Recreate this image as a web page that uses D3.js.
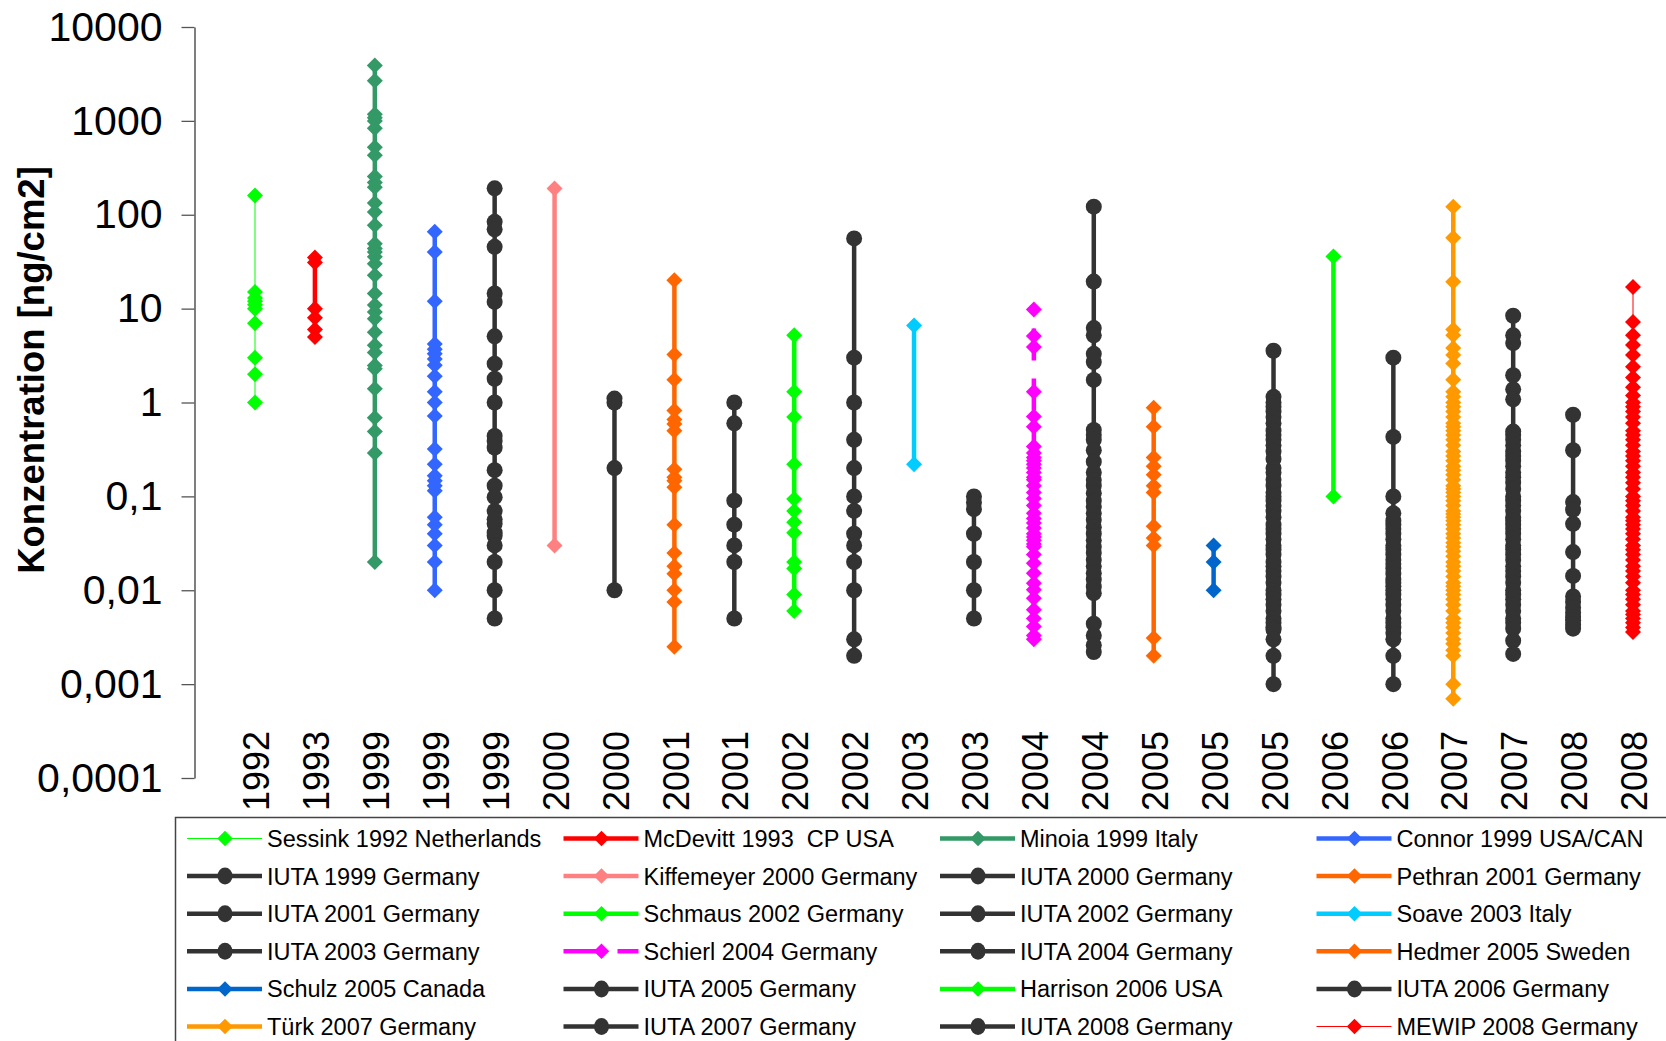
<!DOCTYPE html>
<html>
<head>
<meta charset="utf-8">
<script src="https://cdn.jsdelivr.net/npm/d3@7"></script>
<style>
  html, body { margin: 0; padding: 0; background: #ffffff; }
  svg { display: block; }
  text { font-family: "Liberation Sans", Arial, Helvetica, sans-serif; }
</style>
</head>
<body>
<svg id="chart" width="1666" height="1041"></svg>
<script>
// ---------------- DATA ----------------
const seriesNames = [
  "Sessink 1992 Netherlands", "McDevitt 1993  CP USA", "Minoia 1999 Italy", "Connor 1999 USA/CAN",
  "IUTA 1999 Germany", "Kiffemeyer 2000 Germany", "IUTA 2000 Germany", "Pethran 2001 Germany",
  "IUTA 2001 Germany", "Schmaus 2002 Germany", "IUTA 2002 Germany", "Soave 2003 Italy",
  "IUTA 2003 Germany", "Schierl 2004 Germany", "IUTA 2004 Germany", "Hedmer 2005 Sweden",
  "Schulz 2005 Canada", "IUTA 2005 Germany", "Harrison 2006 USA", "IUTA 2006 Germany",
  "Türk 2007 Germany", "IUTA 2007 Germany", "IUTA 2008 Germany", "MEWIP 2008 Germany"
];
const yearLabels = ["1992","1993","1999","1999","1999","2000","2000","2001","2001","2002","2002","2003",
  "2003","2004","2004","2005","2005","2005","2006","2006","2007","2007","2008","2008"];
const yTickValues = [0.0001, 0.001, 0.01, 0.1, 1, 10, 100, 1000, 10000];
const yTickLabels = ["0,0001", "0,001", "0,01", "0,1", "1", "10", "100", "1000", "10000"];

const sessink = [160, 15, 13, 12, 11, 10, 7, 3, 2, 1];
const mcdevitt = [35, 31, 10, 8, 6, 5];
const minoia = [3900, 2670, 1180, 1080, 1000, 835, 523, 430, 255, 221, 196, 133, 107, 77.5, 49, 43.7, 40, 35.6, 30,
  22.7, 14.5, 10.9, 9.2, 7.8, 5.6, 4.06, 3.4, 2.48, 2.29, 1.4, 0.69, 0.49, 0.29, 0.02];
const connor = [66, 40, 12, 4.2, 3.7, 3.3, 2.9, 2.5, 1.9, 1.3, 1.0, 0.72, 0.32, 0.22, 0.166, 0.147, 0.13, 0.115,
  0.06, 0.05, 0.04, 0.03, 0.02, 0.01];
const iuta1999 = [191, 84, 70, 45.5, 14.5, 11.8, 5.07, 2.59, 1.79, 1.0, 0.44, 0.39, 0.33, 0.19, 0.13, 0.098, 0.07,
  0.057, 0.051, 0.041, 0.038, 0.03, 0.02, 0.01, 0.005];
const kiffemeyer = [190, 0.03];
const iuta2000 = [1.1, 1.0, 0.2, 0.01];
const pethran = [20, 3.25, 1.75, 0.82, 0.66, 0.59, 0.5, 0.195, 0.16, 0.147, 0.125, 0.05, 0.025, 0.018, 0.015, 0.01,
  0.0075, 0.0025];
const iuta2001 = [1.0, 0.6, 0.09, 0.05, 0.03, 0.02, 0.005];
const schmaus = [5.2, 1.3, 0.7, 0.22, 0.094, 0.07, 0.053, 0.041, 0.02, 0.017, 0.009, 0.006];
const iuta2002 = [56, 3, 1, 0.4, 0.2, 0.1, 0.07, 0.04, 0.03, 0.02, 0.01, 0.003, 0.002];
const soave = [6.6, 0.22];
const iuta2003 = [0.1, 0.086, 0.073, 0.04, 0.02, 0.01, 0.005];
const schierl = [9.8, 5.1, 3.9, 1.3, 0.71, 0.55, 0.34, 0.29, 0.26, 0.24, 0.22, 0.2, 0.18, 0.16, 0.15, 0.13, 0.11,
  0.095, 0.08, 0.066, 0.058, 0.052, 0.046, 0.04, 0.037, 0.034, 0.031, 0.029, 0.024, 0.0194, 0.0152, 0.0119,
  0.0101, 0.0082, 0.0062, 0.005, 0.0041, 0.0033, 0.003];
const iuta2004 = [122, 19.4, 6.2, 5.2, 3.3, 2.7, 1.74, 0.51, 0.45, 0.40, 0.31, 0.234, 0.18, 0.149, 0.13, 0.108,
  0.09, 0.078, 0.066, 0.056, 0.047, 0.040, 0.034, 0.029, 0.025, 0.021, 0.018, 0.0152, 0.013, 0.0109, 0.0093,
  0.0044, 0.0033, 0.0026, 0.0022];
const hedmer = [0.88, 0.55, 0.26, 0.21, 0.17, 0.13, 0.11, 0.048, 0.036, 0.03, 0.0031, 0.002];
const schulz = [0.03, 0.02, 0.01];
const iuta2005 = [3.56, 1.15, 1.0, 0.9, 0.8, 0.7, 0.6, 0.5, 0.45, 0.4, 0.35, 0.3, 0.25, 0.2, 0.18, 0.15, 0.13,
  0.11, 0.1, 0.09, 0.08, 0.07, 0.06, 0.05, 0.045, 0.04, 0.035, 0.03, 0.027, 0.024, 0.02, 0.018, 0.016, 0.014,
  0.012, 0.01, 0.009, 0.008, 0.007, 0.006, 0.005, 0.0045, 0.004, 0.0038, 0.003, 0.002, 0.001];
const harrison = [36, 0.1];
const iuta2006 = [3.0, 0.43, 0.1, 0.066, 0.055, 0.05, 0.045, 0.04, 0.035, 0.03, 0.027, 0.024, 0.021, 0.019,
  0.017, 0.015, 0.013, 0.012, 0.011, 0.01, 0.009, 0.008, 0.007, 0.006, 0.005, 0.0045, 0.004, 0.0035, 0.003,
  0.002, 0.001];
const turk = [122, 57, 19.3, 6, 5.2, 3.8, 3.2, 2.6, 1.75, 1.3, 1.15, 1.0, 0.9, 0.8, 0.7, 0.6, 0.55, 0.5, 0.45,
  0.4, 0.35, 0.3, 0.27, 0.24, 0.21, 0.19, 0.17, 0.15, 0.13, 0.12, 0.11, 0.1, 0.09, 0.08, 0.07, 0.065, 0.06,
  0.055, 0.05, 0.045, 0.04, 0.036, 0.032, 0.029, 0.026, 0.023, 0.02, 0.018, 0.016, 0.014, 0.012, 0.011, 0.01,
  0.009, 0.008, 0.007, 0.006, 0.005, 0.0045, 0.004, 0.0035, 0.003, 0.0027, 0.0023, 0.002, 0.001, 0.0007];
const iuta2007 = [8.4, 5.2, 4.3, 1.95, 1.38, 1.08, 0.49, 0.45, 0.4, 0.35, 0.3, 0.27, 0.24, 0.21, 0.18, 0.16,
  0.14, 0.12, 0.1, 0.09, 0.08, 0.07, 0.06, 0.055, 0.05, 0.045, 0.04, 0.035, 0.03, 0.027, 0.024, 0.021, 0.018,
  0.016, 0.014, 0.012, 0.01, 0.009, 0.008, 0.007, 0.006, 0.005, 0.0045, 0.0039, 0.0029, 0.0021];
const iuta2008 = [0.74, 0.31, 0.087, 0.072, 0.051, 0.0255, 0.0142, 0.0086, 0.0075, 0.0065, 0.0058, 0.0052,
  0.0048, 0.0043, 0.0039];
const mewip = [17, 7.2, 5.2, 4.1, 3.2, 2.4, 1.85, 1.45, 1.19, 1.0, 0.9, 0.8, 0.7, 0.6, 0.5, 0.45, 0.4, 0.35, 0.3,
  0.27, 0.24, 0.21, 0.18, 0.16, 0.14, 0.12, 0.1, 0.09, 0.08, 0.07, 0.06, 0.055, 0.05, 0.045, 0.04, 0.035, 0.03,
  0.027, 0.024, 0.021, 0.018, 0.016, 0.014, 0.012, 0.01, 0.009, 0.008, 0.007, 0.006, 0.0055, 0.005, 0.0045,
  0.004, 0.0036];

const seriesValues = [sessink, mcdevitt, minoia, connor, iuta1999, kiffemeyer, iuta2000, pethran, iuta2001,
  schmaus, iuta2002, soave, iuta2003, schierl, iuta2004, hedmer, schulz, iuta2005, harrison, iuta2006, turk,
  iuta2007, iuta2008, mewip];

// ---------------- STYLES ----------------
const DK = "#333333";
const seriesColors = ["#00FF00", "#FF0000", "#339966", "#3366FF", DK, "#FF8080", DK, "#FF6600", DK, "#00FF00",
  DK, "#00CCFF", DK, "#FF00FF", DK, "#FF6600", "#0066CC", DK, "#00FF00", DK, "#FF9900", DK, DK, "#FF0000"];
const seriesMarker = seriesNames.map(n => n.startsWith("IUTA") ? "circle" : "diamond");
const seriesWidth = seriesNames.map(n => (n.startsWith("Sessink") || n.startsWith("MEWIP")) ? 1 : 4.5);
const seriesDash = seriesNames.map(n => n.startsWith("Schierl") ? "32,18" : null);

// ---------------- CHART ----------------
const svg = d3.select("#chart");
const fontFam = '"Liberation Sans", Arial, Helvetica, sans-serif';

const x = d3.scalePoint().domain(seriesNames).range([255, 1633]);
const y = d3.scaleLog().domain([0.0001, 10000]).range([778, 27]);

// Y axis
const yAxis = d3.axisLeft(y)
  .tickValues(yTickValues)
  .tickFormat((d, i) => yTickLabels[i])
  .tickSize(13)
  .tickSizeOuter(0)
  .tickPadding(19);
const gy = svg.append("g").attr("transform", "translate(194.5,0)").call(yAxis);
gy.select(".domain").attr("stroke", "#3a3a3a").attr("stroke-width", 1.3);
gy.selectAll(".tick line").attr("stroke", "#555").attr("stroke-width", 1.3);
gy.selectAll(".tick text").attr("font-size", 41).attr("font-family", fontFam).attr("fill", "#000");

// Y title
svg.append("text")
  .attr("transform", "translate(44,370) rotate(-90)")
  .attr("text-anchor", "middle")
  .attr("font-size", 36.5)
  .attr("font-weight", "bold")
  .attr("font-family", fontFam)
  .attr("fill", "#000")
  .text("Konzentration [ng/cm2]");

// X axis labels (rotated)
const xAxis = d3.axisBottom(x).tickSize(0).tickFormat((d, i) => yearLabels[i]);
const gx = svg.append("g").attr("transform", "translate(0,778)").call(xAxis);
gx.select(".domain").remove();
gx.selectAll(".tick text")
  .attr("transform", "rotate(-90)")
  .attr("text-anchor", "start")
  .attr("x", -33)
  .attr("y", 0)
  .attr("dy", "0.38em")
  .attr("font-size", 36)
  .attr("font-family", fontFam)
  .attr("fill", "#000");

// Series
const diamond = d3.symbol().type(d3.symbolSquare).size(128);
const line = d3.line().x(d => d.x).y(d => d.y);

seriesNames.forEach((name, i) => {
  const vals = seriesValues[i].slice().sort((a, b) => b - a);
  const pts = vals.map(v => ({ x: x(name), y: y(v) }));
  const g = svg.append("g");
  g.append("path")
    .attr("d", line(pts))
    .attr("fill", "none")
    .attr("stroke", seriesColors[i])
    .attr("stroke-width", seriesWidth[i])
    .attr("stroke-dasharray", seriesDash[i])
    .attr("stroke-dashoffset", seriesDash[i] ? 31 : null);
  if (seriesMarker[i] === "circle") {
    g.selectAll("circle").data(pts).enter().append("circle")
      .attr("cx", d => d.x).attr("cy", d => d.y).attr("r", 8)
      .attr("fill", seriesColors[i]);
  } else {
    g.selectAll("path.m").data(pts).enter().append("path")
      .attr("class", "m")
      .attr("d", diamond)
      .attr("transform", d => `translate(${d.x},${d.y}) rotate(45)`)
      .attr("fill", seriesColors[i]);
  }
});

// Legend
svg.append("rect")
  .attr("x", 175.5).attr("y", 817.5)
  .attr("width", 1600).attr("height", 400)
  .attr("fill", "#fff")
  .attr("stroke", "#444").attr("stroke-width", 1.5);

const legendCols = [267, 643.5, 1020, 1396.5];
const legendRow0 = 838.5, legendRowStep = 37.6;
const smallDiamond = d3.symbol().type(d3.symbolSquare).size(120);

seriesNames.forEach((name, i) => {
  const col = i % 4, row = Math.floor(i / 4);
  const tx = legendCols[col];
  const ty = legendRow0 + row * legendRowStep;
  const g = svg.append("g");
  g.append("line")
    .attr("x1", tx - 80).attr("x2", tx - 5)
    .attr("y1", ty).attr("y2", ty)
    .attr("stroke", seriesColors[i])
    .attr("stroke-width", seriesWidth[i])
    .attr("stroke-dasharray", seriesDash[i] ? "34,20" : null);
  const mx = tx - 42;
  if (seriesMarker[i] === "circle") {
    g.append("ellipse").attr("cx", mx).attr("cy", ty).attr("rx", 7.5).attr("ry", 8.5).attr("fill", seriesColors[i]);
  } else {
    g.append("path").attr("d", smallDiamond)
      .attr("transform", `translate(${mx},${ty}) rotate(45)`)
      .attr("fill", seriesColors[i]);
  }
  g.append("text")
    .attr("x", tx).attr("y", ty)
    .attr("dy", "0.36em")
    .attr("font-size", 23.5)
    .attr("font-family", fontFam)
    .attr("fill", "#000")
    .style("white-space", "pre")
    .text(name);
});
</script>
</body>
</html>
